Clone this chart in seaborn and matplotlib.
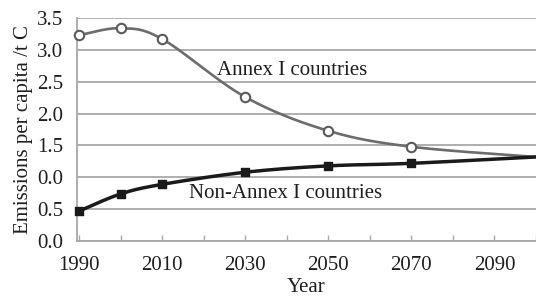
import numpy as np
import pandas as pd
import matplotlib
matplotlib.use("Agg")
import matplotlib.pyplot as plt
import seaborn as sns

# ---- data ----
years = [1990, 2000, 2010, 2030, 2050, 2070, 2100]
annex = [3.23, 3.34, 3.17, 2.26, 1.73, 1.48, 1.32]
non_annex = [0.47, 0.74, 0.89, 1.08, 1.18, 1.22, 1.32]
marked = [True, True, True, True, True, True, False]
y_ticks = [0.0, 0.5, 1.0, 1.5, 2.0, 2.5, 3.0, 3.5]
y_tick_labels = ["0.0", "0.5", "0.0", "1.5", "2.0", "2.5", "3.0", "3.5"]
x_major = [1990, 2010, 2030, 2050, 2070, 2090]
x_minor = [2000, 2020, 2040, 2060, 2080, 2100]


def smooth(xs, ys, n=40):
    """Excel-style smoothed line rendering (Bezier through the points)."""
    P = np.column_stack([xs, ys]).astype(float)
    out = []
    for i in range(len(P) - 1):
        p0 = P[i - 1] if i > 0 else P[i]
        p1 = P[i]
        p2 = P[i + 1]
        p3 = P[i + 2] if i + 2 < len(P) else P[i + 1]
        c1 = p1 + (p2 - p0) / 6.0
        c2 = p2 - (p3 - p1) / 6.0
        t = np.linspace(0, 1, n)[:, None]
        seg = ((1 - t) ** 3) * p1 + 3 * ((1 - t) ** 2) * t * c1 + 3 * (1 - t) * t ** 2 * c2 + t ** 3 * p2
        out.append(seg if i == 0 else seg[1:])
    out = np.vstack(out)
    return out[:, 0], out[:, 1]


sns.set_theme(style="white")
plt.rcParams["font.family"] = ["Liberation Serif", "DejaVu Serif"]

fig = plt.figure(figsize=(5.36, 2.98), dpi=100)
ax = fig.add_axes([0.1437, 0.191, 0.8563, 0.7486])

grid_c = "#a8a8a8"
txt_c = "#1e1e1e"
fs = 15
for v in y_ticks:
    ax.axhline(v, color=grid_c, lw=1.3, zorder=0)

# lines
ax_x, ax_y = smooth(years, annex)
na_x, na_y = smooth(years, non_annex)
sns.lineplot(x=ax_x, y=ax_y, sort=False, color="#6c6c6c", lw=1.9, ax=ax, zorder=2)
sns.lineplot(x=na_x, y=na_y, sort=False, color="#1a1a1a", lw=2.5, ax=ax, zorder=3)

df = pd.DataFrame({"year": years, "annex": annex, "non": non_annex, "m": marked})
dm = df[df["m"]]
sns.scatterplot(data=dm, x="year", y="annex", marker="o", s=46, color="white",
                edgecolor="#5a5a5a", linewidth=1.5, ax=ax, zorder=4, clip_on=False)
sns.scatterplot(data=dm, x="year", y="non", marker="s", s=38, color="#1a1a1a",
                edgecolor="#1a1a1a", linewidth=1.0, ax=ax, zorder=5, clip_on=False)

ax.text(2041.4, 2.68, "Annex I countries", ha="center", va="center", fontsize=fs, color=txt_c)
ax.text(2039.8, 0.75, "Non-Annex I countries", ha="center", va="center", fontsize=fs, color=txt_c)

ax.set_xlim(1989.5, 2099)
ax.set_ylim(0, 3.5)
ax.set_xticks(x_major)
ax.set_xticks(x_minor, minor=True)
ax.set_xticklabels([str(v) for v in x_major])
ax.set_yticks(y_ticks)
ax.set_yticklabels(y_tick_labels)
ax.tick_params(axis="x", which="both", direction="in", length=4, width=1, color=grid_c,
               labelsize=fs, pad=11, labelcolor=txt_c, bottom=True)
ax.tick_params(axis="y", direction="out", length=0, labelsize=fs, pad=10, labelcolor=txt_c)

for s in ["top", "right"]:
    ax.spines[s].set_visible(False)
ax.spines["left"].set_color(grid_c)
ax.spines["bottom"].set_color(grid_c)
ax.spines["left"].set_linewidth(1.3)
ax.spines["bottom"].set_linewidth(1.3)

ax.set_xlabel("Year", fontsize=fs, color=txt_c, labelpad=2)
ax.set_ylabel("Emissions per capita /t C", fontsize=fs, color=txt_c, labelpad=3)

fig.savefig("out.png", dpi=100)
